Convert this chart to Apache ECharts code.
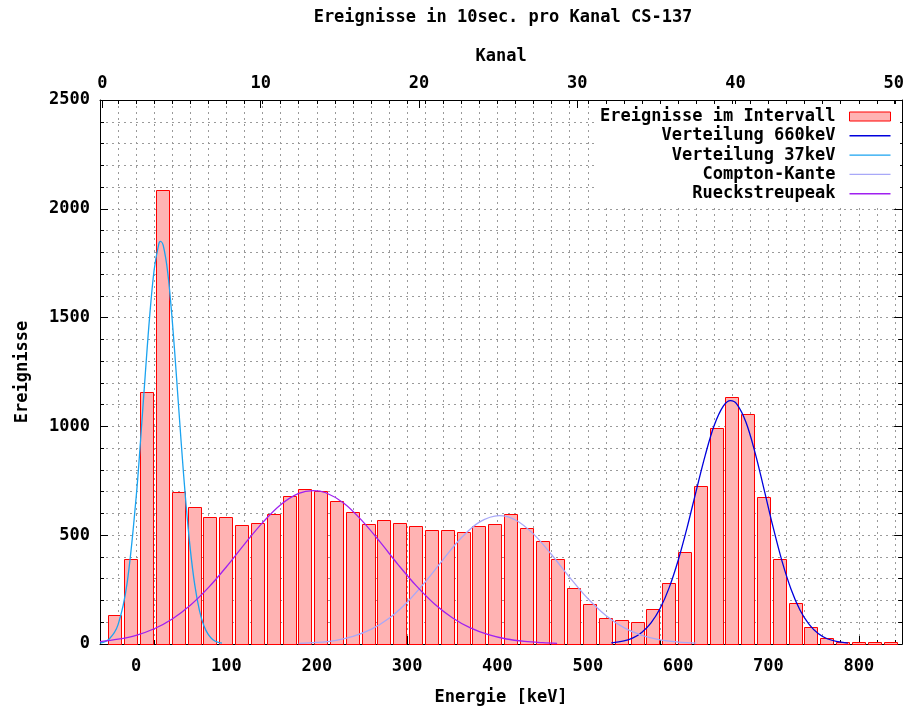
<!DOCTYPE html>
<html>
<head>
<meta charset="utf-8">
<script src="https://cdn.jsdelivr.net/npm/echarts@6/dist/echarts.min.js"></script>
<style>html,body{margin:0;padding:0;background:#fff}#c{width:907px;height:711px}</style>
</head>
<body>
<div id="c"></div>
<script>
// ---- data ----
const energie = [-23.4, -5.8, 11.7, 29.2, 46.7, 64.2, 81.7, 99.2, 116.7, 134.2, 151.8, 169.3, 186.8, 204.3, 221.8, 239.3, 256.8, 274.3, 291.8, 309.3, 326.9, 344.4, 361.9, 379.4, 396.9, 414.4, 431.9, 449.4, 466.9, 484.4, 502.0, 519.5, 537.0, 554.5, 572.0, 589.5, 607.0, 624.5, 642.0, 659.5, 677.0, 694.5, 712.0, 729.5, 747.0, 764.5, 782.0, 799.6, 817.1, 834.6];
const ereignisse = [134, 392, 1157, 2087, 698, 630, 585, 585, 546, 558, 599, 679, 712, 704, 656, 605, 553, 571, 558, 544, 524, 524, 513, 544, 553, 599, 531, 473, 392, 259, 185, 119, 112, 99, 159, 280, 425, 724, 993, 1136, 1056, 677, 392, 187, 79, 26, 8, 8, 8, 8];

const v660E = [526, 540, 550, 560, 570, 580, 590, 600, 610, 620, 630, 640, 650, 658, 665, 675, 685, 695, 705, 715, 725, 735, 745, 755, 765, 775, 788];
const v660  = [5, 14, 28, 54, 97, 163, 258, 384, 536, 704, 867, 1005, 1093, 1118, 1102, 1020, 882, 713, 539, 381, 252, 155, 90, 48, 24, 12, 4];

const v37E = [-40, -30, -20, -10, 0, 5, 10, 15, 20, 25, 27, 30, 35, 40, 45, 50, 55, 60, 65, 70, 75, 80, 85, 90, 95];
const v37  = [4, 22, 89, 280, 673, 942, 1233, 1507, 1721, 1837, 1850, 1832, 1707, 1486, 1209, 919, 653, 434, 269, 156, 84, 43, 20, 9, 4];

const comptonE = [180, 200, 220, 240, 260, 280, 300, 320, 340, 360, 380, 402, 420, 440, 460, 480, 500, 520, 540, 560, 580, 600, 620];
const compton  = [3, 7, 16, 35, 67, 118, 192, 285, 389, 488, 560, 590, 570, 505, 410, 306, 209, 131, 75, 40, 19, 9, 4];

const rueckE = [-40, -20, 0, 20, 40, 60, 80, 100, 120, 140, 160, 180, 196, 210, 230, 250, 270, 290, 310, 330, 350, 370, 390, 410, 430, 450, 466];
const rueck  = [11, 22, 40, 70, 115, 178, 259, 355, 459, 558, 640, 692, 705, 695, 647, 567, 469, 365, 268, 185, 121, 74, 43, 23, 12, 6, 3];

const energieTicks = [0, 100, 200, 300, 400, 500, 600, 700, 800];
const kanalTicks = [0, 10, 20, 30, 40, 50];

const names = ['Ereignisse im Intervall', 'Verteilung 660keV', 'Verteilung 37keV', 'Compton-Kante', 'Rueckstreupeak'];

// ---- chart ----
const FONT = 'DejaVu Sans Mono';
const zip = (a, b) => a.map((x, i) => [x, b[i]]);
const BAR_HALF = 7.2;
const gridLine = { show: true, lineStyle: { color: '#9a9a9a', width: 1, type: [2, 4] } };
const labelStyle = { fontFamily: FONT, fontSize: 17, fontWeight: 'bold', color: '#000' };
const plain = v => String(Math.round(v));
const LINE_ICON = 'path://M0,0H41V1.4H0Z';

const chart = echarts.init(document.getElementById('c'), null, { renderer: 'canvas' });
chart.setOption({
  animation: false,
  backgroundColor: '#fff',
  title: {
    text: 'Ereignisse in 10sec. pro Kanal CS-137',
    left: 503, top: 9, textAlign: 'center', padding: 0,
    textStyle: { fontFamily: FONT, fontSize: 17, fontWeight: 'bold', color: '#000' }
  },
  grid: { left: 100, right: 1, top: 100, bottom: 58, containLabel: false },
  legend: {
    right: 7, top: 104, orient: 'vertical', align: 'right',
    itemWidth: 41, itemHeight: 9, itemGap: 2.3,
    backgroundColor: '#fff', padding: [4, 9, 4, 4],
    textStyle: { fontFamily: FONT, fontSize: 17, fontWeight: 'bold', color: '#000', lineHeight: 17, padding: [0, 9, 0, 0] },
    data: [
      { name: names[0], icon: 'rect', itemStyle: { color: '#ffb3b3', borderColor: '#ff0000', borderWidth: 1 } },
      { name: names[1], icon: LINE_ICON, itemStyle: { color: '#0000dd', borderWidth: 0 } },
      { name: names[2], icon: LINE_ICON, itemStyle: { color: '#1aa3f0', borderWidth: 0 } },
      { name: names[3], icon: LINE_ICON, itemStyle: { color: '#a8a8f8', borderWidth: 0 } },
      { name: names[4], icon: LINE_ICON, itemStyle: { color: '#a020f0', borderWidth: 0 } }
    ]
  },
  xAxis: [
    { // bottom energy axis with grid
      type: 'value', position: 'bottom', min: -40, max: 848, interval: 20,
      name: 'Energie [keV]', nameLocation: 'middle', nameGap: 45,
      nameTextStyle: labelStyle,
      axisLine: { show: true, onZero: false, lineStyle: { color: '#000', width: 1 } },
      axisTick: { show: true, inside: true, length: 4, lineStyle: { color: '#000' } },
      axisLabel: { show: false },
      splitLine: gridLine
    },
    { // top Kanal axis
      type: 'value', position: 'top', min: -0.157, max: 50.53,
      name: 'Kanal', nameLocation: 'middle', nameGap: 35,
      nameTextStyle: labelStyle,
      axisLine: { show: true, onZero: false, lineStyle: { color: '#000', width: 1 } },
      axisTick: { show: true, inside: true, length: 8, customValues: kanalTicks, lineStyle: { color: '#000' } },
      axisLabel: { show: true, customValues: kanalTicks, margin: 8, formatter: plain, ...labelStyle },
      splitLine: { show: false }
    },
    { // bottom major ticks + labels
      type: 'value', position: 'bottom', min: -40, max: 848,
      axisLine: { show: false, onZero: false },
      axisTick: { show: true, inside: true, length: 8, customValues: energieTicks, lineStyle: { color: '#000' } },
      axisLabel: { show: true, customValues: energieTicks, margin: 14, formatter: plain, ...labelStyle },
      splitLine: { show: false }
    },
    { // top mirrored minor ticks
      type: 'value', position: 'top', min: -40, max: 848, interval: 20,
      axisLine: { show: false, onZero: false },
      axisTick: { show: true, inside: true, length: 4, lineStyle: { color: '#000' } },
      axisLabel: { show: false },
      splitLine: { show: false }
    }
  ],
  yAxis: [
    {
      type: 'value', position: 'left', min: 0, max: 2500, interval: 500,
      name: 'Ereignisse', nameLocation: 'middle', nameGap: 69, nameRotate: 90,
      nameTextStyle: labelStyle,
      axisLine: { show: true, onZero: false, lineStyle: { color: '#000', width: 1 } },
      axisTick: { show: true, inside: true, length: 8, lineStyle: { color: '#000' } },
      minorTick: { show: true, splitNumber: 5, length: 4, lineStyle: { color: '#000' } },
      axisLabel: { show: true, margin: 10, formatter: plain, ...labelStyle },
      splitLine: gridLine,
      minorSplitLine: gridLine
    },
    {
      type: 'value', position: 'right', min: 0, max: 2500, interval: 500,
      axisLine: { show: true, onZero: false, lineStyle: { color: '#000', width: 1 } },
      axisTick: { show: true, inside: true, length: 8, lineStyle: { color: '#000' } },
      minorTick: { show: true, splitNumber: 5, length: 4, lineStyle: { color: '#000' } },
      axisLabel: { show: false },
      splitLine: { show: false }
    }
  ],
  series: [
    {
      name: names[0], type: 'custom', xAxisIndex: 0, yAxisIndex: 0, z: 2,
      itemStyle: { color: '#ffb3b3', borderColor: '#ff0000', borderWidth: 1 },
      encode: { x: 0, y: 1 },
      data: zip(energie, ereignisse),
      renderItem: function (params, api) {
        const x = api.value(0), y = api.value(1);
        const p0 = api.coord([x - BAR_HALF, y]);
        const p1 = api.coord([x + BAR_HALF, 0]);
        return {
          type: 'rect',
          shape: { x: Math.round(p0[0]) + 0.5, y: Math.round(p0[1]) + 0.5, width: Math.round(p1[0] - p0[0]), height: Math.round(p1[1]) - Math.round(p0[1]) },
          style: { fill: '#ffb3b3', stroke: '#ff0000', lineWidth: 1 }
        };
      }
    },
    {
      name: names[1], type: 'line', xAxisIndex: 0, yAxisIndex: 0, z: 5,
      symbol: 'none', smooth: 0.35, data: zip(v660E, v660),
      lineStyle: { color: '#0000dd', width: 1.3 }, itemStyle: { color: '#0000dd' }
    },
    {
      name: names[2], type: 'line', xAxisIndex: 0, yAxisIndex: 0, z: 5,
      symbol: 'none', smooth: 0.35, data: zip(v37E, v37),
      lineStyle: { color: '#1aa3f0', width: 1.3 }, itemStyle: { color: '#1aa3f0' }
    },
    {
      name: names[3], type: 'line', xAxisIndex: 0, yAxisIndex: 0, z: 5,
      symbol: 'none', smooth: 0.35, data: zip(comptonE, compton),
      lineStyle: { color: '#a8a8f8', width: 1.3 }, itemStyle: { color: '#a8a8f8' }
    },
    {
      name: names[4], type: 'line', xAxisIndex: 0, yAxisIndex: 0, z: 5,
      symbol: 'none', smooth: 0.35, data: zip(rueckE, rueck),
      lineStyle: { color: '#a020f0', width: 1.3 }, itemStyle: { color: '#a020f0' }
    }
  ]
});
</script>
</body>
</html>
